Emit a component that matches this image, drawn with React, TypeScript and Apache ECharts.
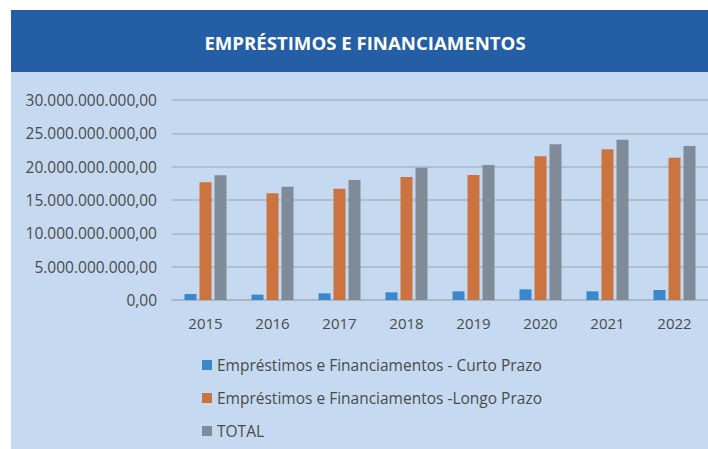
import React, { useEffect, useRef } from "react";
import * as echarts from "echarts";

const categories = ["2015", "2016", "2017", "2018", "2019", "2020", "2021", "2022"];
const curtoPrazo = [0.9e9, 0.8e9, 1.0e9, 1.15e9, 1.3e9, 1.6e9, 1.3e9, 1.5e9];
const longoPrazo = [17.65e9, 16.0e9, 16.7e9, 18.45e9, 18.75e9, 21.55e9, 22.6e9, 21.35e9];
const total = [18.7e9, 17.0e9, 18.0e9, 19.85e9, 20.25e9, 23.35e9, 24.05e9, 23.1e9];
const seriesNames = [
  "Empréstimos e Financiamentos - Curto Prazo",
  "Empréstimos e Financiamentos -Longo Prazo",
  "TOTAL",
];
const titleText = "EMPRÉSTIMOS E FINANCIAMENTOS";

function fmt(v: number): string {
  const s = Math.round(v).toString();
  const withDots = s.replace(/\B(?=(\d{3})+(?!\d))/g, ".");
  return withDots + ",00";
}

export default function App() {
  const ref = useRef<HTMLDivElement>(null);
  useEffect(() => {
    if (!ref.current) return;
    const chart = echarts.init(ref.current, null, { renderer: "svg" });
    const font = "'Open Sans', 'Noto Sans', sans-serif";
    const textColor = "#4a4a4a";
    chart.setOption({
      animation: false,
      backgroundColor: "#ffffff",
      graphic: [
        {
          type: "rect",
          shape: { x: 11, y: 10, width: 720, height: 460 },
          style: { fill: "#C5DAF1" },
          silent: true,
          z: -10,
        },
        {
          type: "rect",
          shape: { x: 11, y: 10, width: 720, height: 62 },
          style: { fill: "#245FA5" },
          silent: true,
          z: -9,
        },
        {
          type: "text",
          x: 365,
          y: 42,
          style: {
            text: titleText,
            fill: "#ffffff",
            font: "bold 18.6px " + font,
            textAlign: "center",
            textVerticalAlign: "middle",
          },
          silent: true,
          z: 10,
        },
      ],
      grid: { left: 172, top: 100, width: 545, bottom: 149 },
      legend: {
        orient: "vertical",
        left: 197,
        top: 352,
        itemWidth: 10,
        itemHeight: 10,
        itemGap: 17,
        icon: "rect",
        textStyle: { color: textColor, fontSize: 15.5, fontFamily: font, lineHeight: 16 },
        data: seriesNames,
      },
      xAxis: {
        type: "category",
        data: categories,
        axisLine: { lineStyle: { color: "#A8B4C0", width: 1.5 } },
        axisTick: { show: false },
        axisLabel: { color: textColor, fontSize: 15, fontFamily: font, margin: 15 },
      },
      yAxis: {
        type: "value",
        min: 0,
        max: 30e9,
        interval: 5e9,
        axisLine: { show: false },
        axisTick: { show: false },
        splitLine: { lineStyle: { color: "#A8B4C0", width: 1.5 } },
        axisLabel: {
          color: textColor,
          fontSize: 15.5,
          fontFamily: font,
          margin: 15,
          formatter: (v: number) => fmt(v),
        },
      },
      series: [
        {
          name: seriesNames[0],
          type: "bar",
          data: curtoPrazo,
          barWidth: 12,
          barGap: "25%",
          itemStyle: { color: "#3A87C9" },
        },
        {
          name: seriesNames[1],
          type: "bar",
          data: longoPrazo,
          barWidth: 12,
          barGap: "25%",
          itemStyle: { color: "#CC7440" },
        },
        {
          name: seriesNames[2],
          type: "bar",
          data: total,
          barWidth: 12,
          barGap: "25%",
          itemStyle: { color: "#7F8C97" },
        },
      ],
    });
    return () => chart.dispose();
  }, []);
  return (
    <div
      ref={ref}
      style={{ position: "fixed", left: 0, top: 0, width: 708, height: 449 }}
    />
  );
}
